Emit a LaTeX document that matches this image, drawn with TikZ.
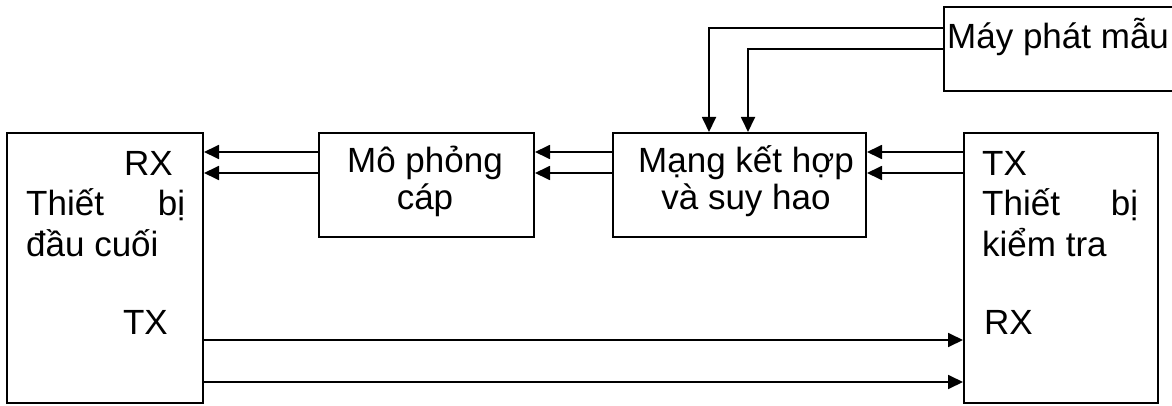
\documentclass[tikz,border=0pt]{standalone}
\usepackage{fontspec}
\setmainfont{Liberation Sans}
\usetikzlibrary{arrows.meta,calc}
\tikzset{
  box/.style={draw, line width=2pt, rectangle, inner sep=0pt},
  conn/.style={line width=1.8pt},
  arr/.style={conn, -{Triangle[length=15pt,width=14pt]}},
  txt/.style={inner sep=0pt, font=\fontsize{35}{40}\selectfont},
}
\begin{document}
\begin{tikzpicture}[x=1pt,y=-1pt]
\useasboundingbox (0,0) rectangle (1172,406);
% boxes
\node[box, minimum width=196pt, minimum height=270pt] (L) at (105,268) {};
\node[box, minimum width=215pt, minimum height=104pt] (M) at (426.5,185) {};
\node[box, minimum width=253pt, minimum height=104pt] (N) at (739.5,185) {};
\node[box, minimum width=194pt, minimum height=270pt] (R) at (1061,268) {};
\node[box, minimum width=260pt, minimum height=84pt] (G) at (1074,49) {};
% texts
\node[txt, anchor=base east] (lrx) at (173,176) {RX};
\node[txt, anchor=base west, text width=159pt] (ltb) at (26,215) {Thiết\hfill bị};
\node[txt, anchor=base west] (ldc) at (26,256) {đầu cuối};
\node[txt, anchor=base east] (ltx) at (168,334) {TX};
\node[txt, anchor=base west] (rtx) at (982,176) {TX};
\node[txt, anchor=base west, text width=156pt] (rtb) at (982,215) {Thiết\hfill bị};
\node[txt, anchor=base west] (rkt) at (982,256) {kiểm tra};
\node[txt, anchor=base west] (rrx) at (984,334) {RX};
\node[txt, anchor=base] (m1) at (425,173) {Mô phỏng};
\node[txt, anchor=base] (m2) at (425,210) {cáp};
\node[txt, anchor=base] (n1) at (746,173) {Mạng kết hợp};
\node[txt, anchor=base] (n2) at (746,210) {và suy hao};
\node[txt, anchor=base west] (g1) at (947,49) {Máy phát mẫu};
% connectors
\draw[arr] ($(M.north west)+(0,20)$) -- ($(L.north east)+(0,20)$);
\draw[arr] ($(M.north west)+(0,41)$) -- ($(L.north east)+(0,41)$);
\draw[arr] ($(N.north west)+(0,20)$) -- ($(M.north east)+(0,20)$);
\draw[arr] ($(N.north west)+(0,41)$) -- ($(M.north east)+(0,41)$);
\draw[arr] ($(R.north west)+(0,20)$) -- ($(N.north east)+(0,20)$);
\draw[arr] ($(R.north west)+(0,41)$) -- ($(N.north east)+(0,41)$);
\draw[arr] ($(G.north west)+(0,22)$) -| ($(N.north west)+(97,0)$);
\draw[arr] ($(G.north west)+(0,43)$) -| ($(N.north west)+(136,0)$);
\draw[arr] ($(L.north east)+(0,208)$) -- ($(R.north west)+(0,208)$);
\draw[arr] ($(L.north east)+(0,250)$) -- ($(R.north west)+(0,250)$);
\end{tikzpicture}
\end{document}
